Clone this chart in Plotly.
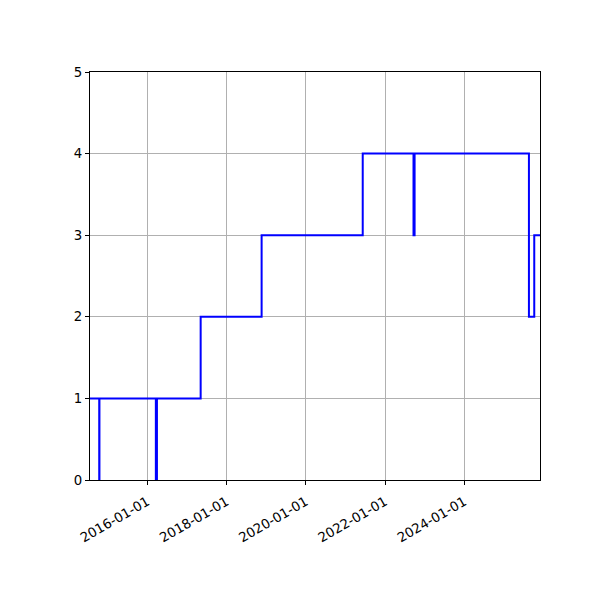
#!/usr/bin/env python3
"""Step chart of a level over time, matplotlib-like styling."""

import plotly.graph_objects as go

# change points of the step series (value holds until next date)
dates = [
    "2014-07-22", "2014-10-15", "2014-10-17", "2016-03-20", "2016-03-30",
    "2017-05-07", "2018-11-20", "2021-06-09", "2022-09-20", "2022-09-30",
    "2025-08-19", "2025-10-07", "2025-11-29",
]
levels = [1, 0, 1, 0, 1, 2, 3, 4, 3, 4, 2, 3, 3]

tick_dates = ["2016-01-01", "2018-01-01", "2020-01-01", "2022-01-01", "2024-01-01"]
y_ticks = [0, 1, 2, 3, 4, 5]

font = dict(family="DejaVu Sans", size=13.3, color="black")

fig = go.Figure()
fig.add_trace(go.Scatter(
    x=dates,
    y=levels,
    mode="lines",
    line=dict(color="#0000ff", width=2, shape="hv"),
    showlegend=False,
))

axis_common = dict(
    showline=True, linecolor="black", linewidth=1, mirror=True,
    ticks="outside", ticklen=4, tickcolor="black", tickwidth=1,
    showgrid=True, gridcolor="#b0b0b0", gridwidth=1,
    zeroline=False, tickfont=font,
)

# the page body adds an 8px offset, so margins are shifted to compensate
fig.update_layout(
    width=600, height=600,
    margin=dict(l=82, r=68, t=64, b=128),
    paper_bgcolor="white", plot_bgcolor="white",
    font=font,
    xaxis=dict(
        type="date",
        range=[dates[0], dates[-1]],
        tickvals=tick_dates,
        ticktext=tick_dates,
        tickangle=-30,
        ticklabelstandoff=4,
        **axis_common,
    ),
    yaxis=dict(
        range=[0, 5],
        tickvals=y_ticks,
        **axis_common,
    ),
)

fig.write_html("out.html")
